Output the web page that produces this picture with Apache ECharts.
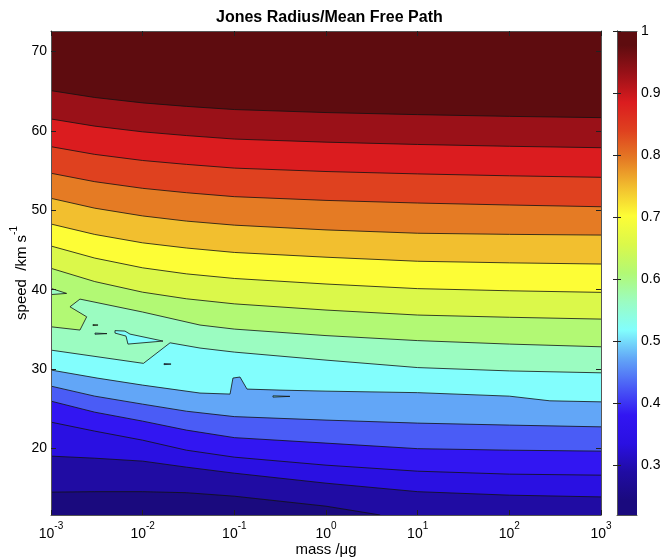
<!DOCTYPE html>
<html><head><meta charset="utf-8">
<script src="https://cdn.jsdelivr.net/npm/echarts@6/dist/echarts.min.js"></script>
<style>html,body{margin:0;padding:0;background:#fff}#c{width:664px;height:558px}</style>
</head><body><div id="c"></div>
<script>
// ---- axes / ticks ----
const massRange = [0.001, 1000];
const speedRange = [11.6, 72.6];
const valueRange = [0.22, 1.0];
const massTicks = [0.001, 0.01, 0.1, 1, 10, 100, 1000];
const speedTicks = [20, 30, 40, 50, 60, 70];
const cbarTicks = [0.3, 0.4, 0.5, 0.6, 0.7, 0.8, 0.9, 1];

// ---- contour levels (value of Jones radius / mean free path) ----
const levelValues = [0.954, 0.908, 0.862, 0.816, 0.771, 0.725, 0.679, 0.633, 0.587, 0.541, 0.495, 0.449, 0.404, 0.358, 0.312, 0.266];

// ---- contour lines: [mass /ug, speed /km s^-1], top level first ----
const c954 = [[0.001,65.08],[0.003,64.22],[0.01,63.54],[0.03,63.10],[0.1,62.70],[1,62.32],[10,62.06],[100,61.84],[1000,61.68]];
const c908 = [[0.001,61.51],[0.003,60.61],[0.01,59.89],[0.03,59.42],[0.1,58.98],[1,58.59],[10,58.30],[100,58.07],[1000,57.89]];
const c862 = [[0.001,58.02],[0.003,57.05],[0.01,56.28],[0.03,55.79],[0.1,55.32],[1,54.89],[10,54.59],[100,54.35],[1000,54.16]];
const c816 = [[0.001,54.67],[0.003,53.61],[0.01,52.77],[0.03,52.22],[0.1,51.72],[1,51.25],[10,50.92],[100,50.67],[1000,50.45]];
const c771 = [[0.001,51.51],[0.003,50.27],[0.01,49.29],[0.03,48.64],[0.1,48.13],[1,47.53],[10,47.11],[100,46.97],[1000,46.88]];
const c725 = [[0.001,48.27],[0.003,46.96],[0.01,45.90],[0.03,45.25],[0.1,44.69],[1,44.09],[10,43.58],[100,43.38],[1000,43.23]];
const c679 = [[0.001,45.50],[0.003,43.98],[0.01,42.75],[0.03,41.99],[0.1,41.41],[1,40.71],[10,40.13],[100,39.86],[1000,39.66]];
const c633 = [[0.001,42.69],[0.003,41.02],[0.01,39.68],[0.03,38.85],[0.1,38.21],[1,37.43],[10,36.80],[100,36.52],[1000,36.29]];
const c587 = [[0.001,35.32],[0.00207,34.91],[0.00245,36.58],[0.00161,37.84],[0.00207,38.81],[0.01,37.18],[0.0422,35.54],[0.1,35.03],[1,34.21],[10,33.58],[100,33.14],[1000,32.80]];
const c541 = [[0.001,32.38],[0.0102,30.71],[0.0199,33.30],[0.0422,32.64],[0.1,32.13],[1,31.12],[10,30.18],[100,29.76],[1000,29.52]];
const c495 = [[0.001,29.87],[0.00318,28.86],[0.01,27.97],[0.0422,26.97],[0.0898,26.84],[0.0966,28.86],[0.1153,28.99],[0.1375,27.47],[0.315,27.34],[1,27.21],[10,27.02],[100,26.58],[277,25.99],[1000,25.86]];
const c449 = [[0.001,27.84],[0.003,26.58],[0.01,25.57],[0.03,24.68],[0.1,24.00],[1,23.56],[10,23.18],[100,22.93],[1000,22.71]];
const c404 = [[0.001,25.95],[0.003,24.56],[0.01,23.43],[0.03,22.30],[0.1,21.35],[1,20.66],[10,19.96],[100,19.77],[1000,19.65]];
const c358 = [[0.001,23.30],[0.003,22.17],[0.01,21.03],[0.03,19.77],[0.1,18.89],[1,17.88],[10,17.12],[100,16.75],[1000,16.62]];
const c312 = [[0.001,19.02],[0.003,18.76],[0.01,18.39],[0.03,17.63],[0.1,16.87],[1,15.61],[10,14.54],[100,14.10],[1000,13.88]];
const c266 = [[0.001,14.48],[0.003,14.54],[0.01,14.54],[0.03,14.41],[0.1,13.97],[1,12.71],[3.9,11.6]];
const contours = [c954, c908, c862, c816, c771, c725, c679, c633, c587, c541, c495, c449, c404, c358, c312, c266];

// ---- small closed contours (islands): points + index of band colour ----
const isleTri   = [[0.001,40.16],[0.00148,39.53],[0.001,39.38]];
const isleA     = [[0.00287,35.60],[0.00326,35.54],[0.00287,35.47]];
const isleB     = [[0.00302,34.53],[0.00408,34.46],[0.00302,34.38]];
const isleCyan  = [[0.00499,34.84],[0.00641,34.78],[0.00727,34.40],[0.01667,33.52],[0.00691,33.14],[0.00658,34.15],[0.00499,34.53]];
const isleD     = [[0.0171,30.68],[0.0204,30.62],[0.0171,30.55]];
const isleE     = [[0.264,26.62],[0.404,26.55],[0.264,26.46]];
const islands = [isleTri, isleA, isleB, isleCyan, isleD, isleE];
const islandBand = [9, 8, 10, 10, 11, 10];

// ---- band colours, top band first (17 bands) ----
const bandColors = ['#5e0c0f','#9a1118','#db1c1f','#df411f','#e57b24','#f2bf2f','#fdfd36','#dbf84a','#b2f974','#9bfcc1','#82fefd','#62a6f7','#4a5cf6','#3216f2','#2a10e2','#200ca3','#1a0a7e'];

const FONT = "'Liberation Sans', Arial, Helvetica, sans-serif";
const chart = echarts.init(document.getElementById('c'), null, {renderer: 'canvas'});

function bandItem(params, api) {
  const k = api.value(2);
  let pts;
  if (k === 0) {
    pts = [[massRange[0], speedRange[0]], [massRange[0], speedRange[1]], [massRange[1], speedRange[1]], [massRange[1], speedRange[0]]];
  } else {
    pts = contours[k - 1].concat([[massRange[1], speedRange[0]], [massRange[0], speedRange[0]]]);
  }
  return {type: 'polygon', shape: {points: pts.map(p => api.coord(p))}, style: {fill: bandColors[k]}};
}
function islandItem(params, api) {
  const k = api.value(2);
  return {type: 'polygon', shape: {points: islands[k].map(p => api.coord(p))},
    style: {fill: bandColors[islandBand[k]], stroke: '#111', lineWidth: 0.8}};
}
function cbarItem(params, api) {
  const a = api.coord([0, valueRange[0]]);
  const b = api.coord([1, valueRange[1]]);
  const span = valueRange[1] - valueRange[0];
  const stops = [];
  const n = bandColors.length;
  for (let j = 0; j < n; j++) {
    const lo = j === 0 ? valueRange[0] : levelValues[n - 1 - j];
    const hi = j === n - 1 ? valueRange[1] : levelValues[n - 2 - j];
    stops.push({offset: ((lo + hi) / 2 - valueRange[0]) / span, color: bandColors[n - 1 - j]});
  }
  stops.unshift({offset: 0, color: bandColors[n - 1]});
  stops.push({offset: 1, color: bandColors[0]});
  return {type: 'rect', shape: {x: a[0], y: b[1], width: b[0] - a[0], height: a[1] - b[1]},
    style: {fill: new echarts.graphic.LinearGradient(0, 1, 0, 0, stops)}};
}

const axisCol = '#555';
const series = [];
series.push({type: 'custom', xAxisIndex: 0, yAxisIndex: 0, renderItem: bandItem, clip: true, silent: true, z: 1,
  encode: {x: 0, y: 1},
  data: bandColors.map((c, i) => [massRange[0], speedRange[0], i])});
contours.forEach(cl => series.push({type: 'line', xAxisIndex: 0, yAxisIndex: 0, data: cl, symbol: 'none', silent: true,
  clip: true, z: 3, lineStyle: {color: '#111', width: 0.8}}));
series.push({type: 'custom', xAxisIndex: 0, yAxisIndex: 0, renderItem: islandItem, clip: true, silent: true, z: 4,
  encode: {x: 0, y: 1},
  data: islands.map((p, i) => [massRange[0], speedRange[0], i])});
series.push({type: 'custom', xAxisIndex: 2, yAxisIndex: 2, renderItem: cbarItem, silent: true, z: 1,
  encode: {x: 0, y: 1}, data: [[0, valueRange[0], 0]]});

const option = {
  animation: false,
  backgroundColor: '#fff',
  textStyle: {fontFamily: FONT},
  title: {text: 'Jones Radius/Mean Free Path', left: 211, top: 5,
    textStyle: {fontFamily: FONT, fontSize: 16, fontWeight: 'bold', color: '#000'}},
  grid: [
    {left: 51, top: 31, width: 550, height: 484, containLabel: false, outerBoundsMode: 'none'},
    {left: 617, top: 31, width: 20, height: 484, containLabel: false, outerBoundsMode: 'none'}
  ],
  xAxis: [
    {type: 'log', logBase: 10, gridIndex: 0, min: massRange[0], max: massRange[1], position: 'bottom', z: 10,
      axisLine: {show: true, lineStyle: {color: axisCol, width: 1}},
      axisTick: {show: true, inside: true, length: 5, lineStyle: {color: '#222'}, customValues: massTicks},
      splitLine: {show: false}, minorTick: {show: false},
      axisLabel: {show: true, margin: 6, color: '#000', customValues: massTicks,
        formatter: v => '{b|10}{s|' + Math.round(Math.log10(v)) + '}',
        rich: {b: {fontSize: 14, fontFamily: FONT, color: '#000', lineHeight: 20, verticalAlign: 'bottom'},
               s: {fontSize: 10, fontFamily: FONT, color: '#000', lineHeight: 12, verticalAlign: 'top'}}},
      name: 'mass /\u03bcg', nameLocation: 'middle', nameGap: 27, nameMoveOverlap: false,
      nameTextStyle: {fontSize: 15, color: '#000', fontFamily: FONT}},
    {type: 'log', logBase: 10, gridIndex: 0, min: massRange[0], max: massRange[1], position: 'top', z: 10,
      axisLine: {show: true, lineStyle: {color: axisCol, width: 1}},
      axisTick: {show: true, inside: true, length: 5, lineStyle: {color: '#222'}, customValues: massTicks},
      splitLine: {show: false}, axisLabel: {show: false}},
    {type: 'value', gridIndex: 1, min: 0, max: 1, position: 'bottom', z: 10,
      axisLine: {show: true, lineStyle: {color: axisCol}}, axisTick: {show: false}, axisLabel: {show: false}, splitLine: {show: false}},
    {type: 'value', gridIndex: 1, min: 0, max: 1, position: 'top', z: 10,
      axisLine: {show: true, lineStyle: {color: axisCol}}, axisTick: {show: false}, axisLabel: {show: false}, splitLine: {show: false}}
  ],
  yAxis: [
    {type: 'value', gridIndex: 0, min: speedRange[0], max: speedRange[1], position: 'left', z: 10,
      axisLine: {show: true, lineStyle: {color: axisCol, width: 1}},
      axisTick: {show: true, inside: true, length: 5, lineStyle: {color: '#222'}, customValues: speedTicks},
      splitLine: {show: false},
      axisLabel: {show: true, margin: 4, fontSize: 14, color: '#000', fontFamily: FONT, customValues: speedTicks},
      name: '{a|speed  /km s}{s|-1}', nameLocation: 'middle', nameGap: 22, nameMoveOverlap: false,
      nameTextStyle: {rich: {a: {fontSize: 15, fontFamily: FONT, color: '#000', lineHeight: 20, verticalAlign: 'bottom'},
                             s: {fontSize: 10, fontFamily: FONT, color: '#000', lineHeight: 12, verticalAlign: 'top'}}}},
    {type: 'value', gridIndex: 0, min: speedRange[0], max: speedRange[1], position: 'right', z: 10,
      axisLine: {show: true, lineStyle: {color: axisCol, width: 1}},
      axisTick: {show: true, inside: true, length: 5, lineStyle: {color: '#222'}, customValues: speedTicks},
      splitLine: {show: false}, axisLabel: {show: false}},
    {type: 'value', gridIndex: 1, min: valueRange[0], max: valueRange[1], position: 'right', z: 10,
      axisLine: {show: true, lineStyle: {color: axisCol}},
      axisTick: {show: true, inside: true, length: 4, lineStyle: {color: '#222'}, customValues: cbarTicks},
      splitLine: {show: false},
      axisLabel: {show: true, margin: 4, fontSize: 14, color: '#000', fontFamily: FONT, customValues: cbarTicks,
        formatter: v => (Math.abs(v - 1) < 1e-9 ? '1' : v.toFixed(1))}},
    {type: 'value', gridIndex: 1, min: valueRange[0], max: valueRange[1], position: 'left', z: 10,
      axisLine: {show: true, lineStyle: {color: axisCol}},
      axisTick: {show: true, inside: true, length: 4, lineStyle: {color: '#222'}, customValues: cbarTicks},
      splitLine: {show: false}, axisLabel: {show: false}}
  ],
  series: series
};
chart.setOption(option);
</script>
</body></html>
